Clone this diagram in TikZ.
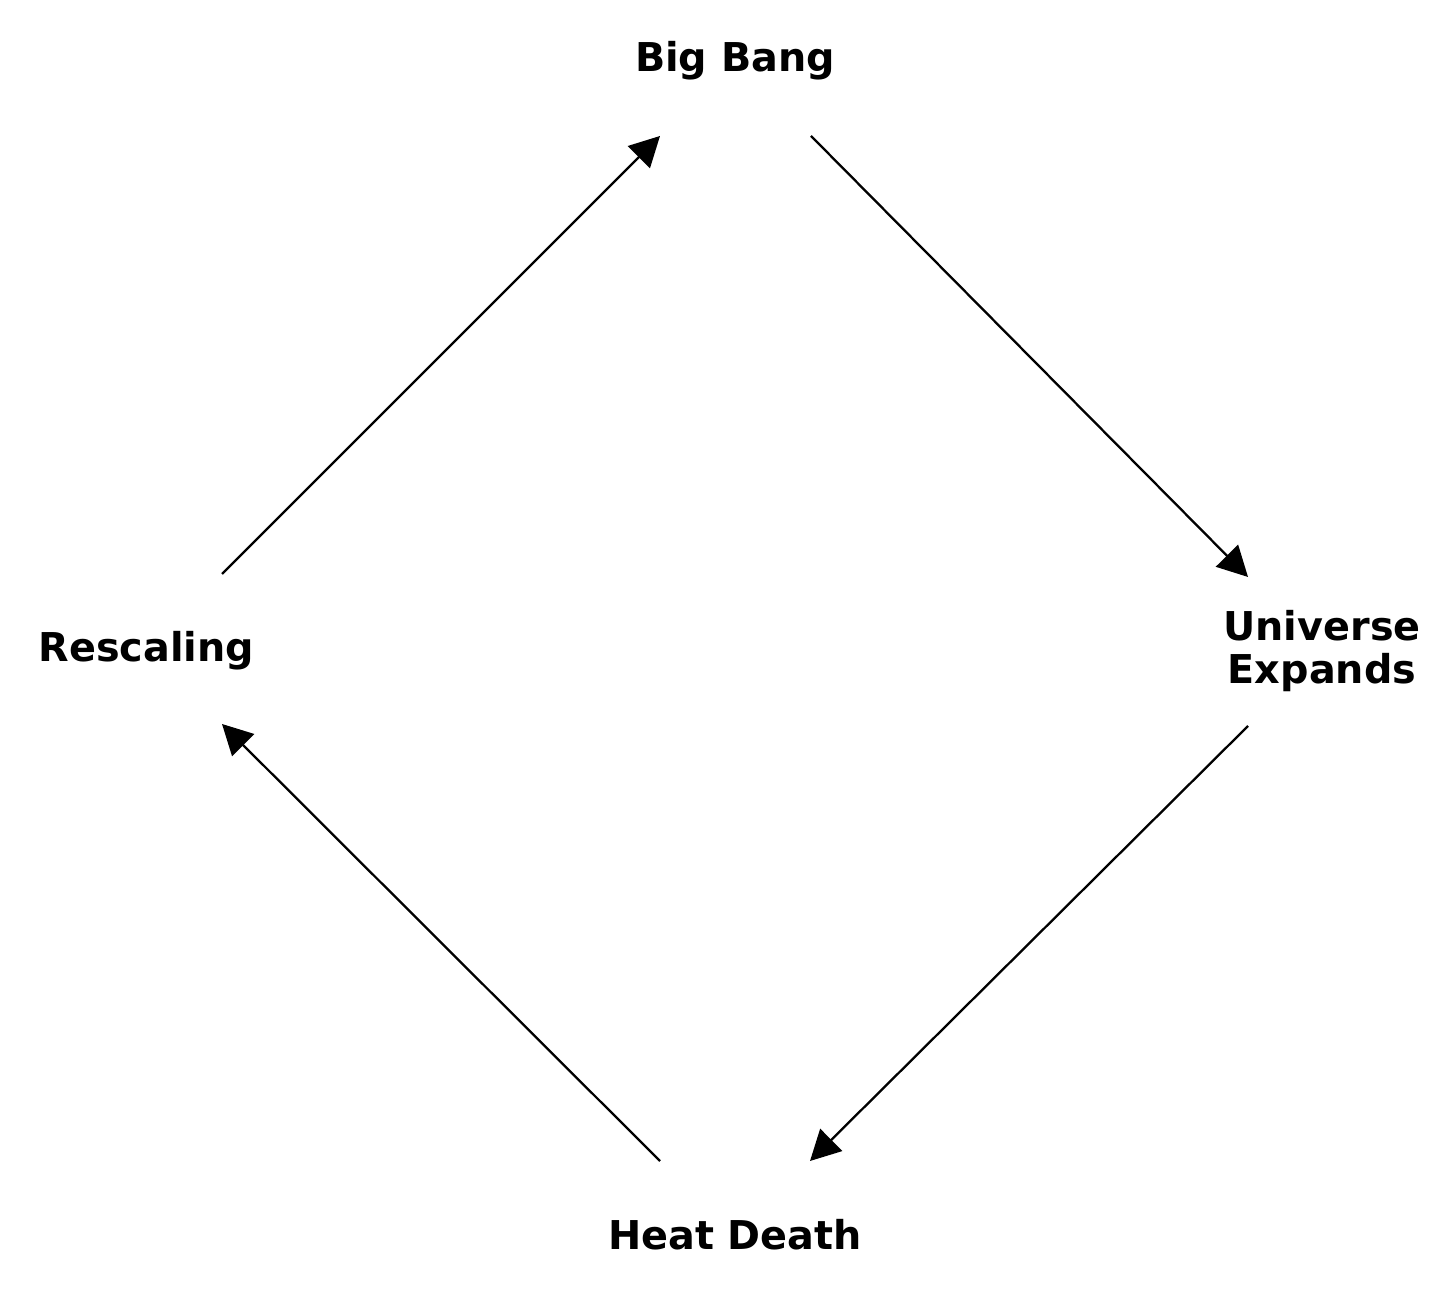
\documentclass[tikz,border=0pt]{standalone}
\usepackage{fontspec}
\setmainfont{DejaVu Sans}
\usetikzlibrary{arrows.meta,calc}

\begin{document}
\begin{tikzpicture}[
  lbl/.style={font=\fontsize{11.3}{12.4}\selectfont\bfseries,inner sep=0pt},
  arr/.style={-{Triangle[length=0.30cm,width=0.31cm]},line width=0.65pt,black}]
  \useasboundingbox (0,0) rectangle (14.56,13.03);
  \node[lbl,anchor=base] (bb) at (7.35,12.31) {Big Bang};
  \node[lbl,align=center] (ue) at (13.22,6.52) {Universe\\Expands};
  \node[lbl,anchor=base] (hd) at (7.35,0.53) {Heat Death};
  \node[lbl,anchor=base] (rs) at (1.465,6.41) {Rescaling};
  % the cycle
  \draw[arr] ($(rs.base)+(0.755,0.88)$) -- ($(bb.base)+(-0.75,-0.64)$);
  \draw[arr] ($(bb.base)+(0.76,-0.64)$) -- ($(ue.center)+(-0.74,0.74)$);
  \draw[arr] ($(ue.center)+(-0.74,-0.75)$) -- ($(hd.base)+(0.75,0.89)$);
  \draw[arr] ($(hd.base)+(-0.75,0.89)$) -- ($(rs.base)+(0.755,-0.62)$);
\end{tikzpicture}
\end{document}
